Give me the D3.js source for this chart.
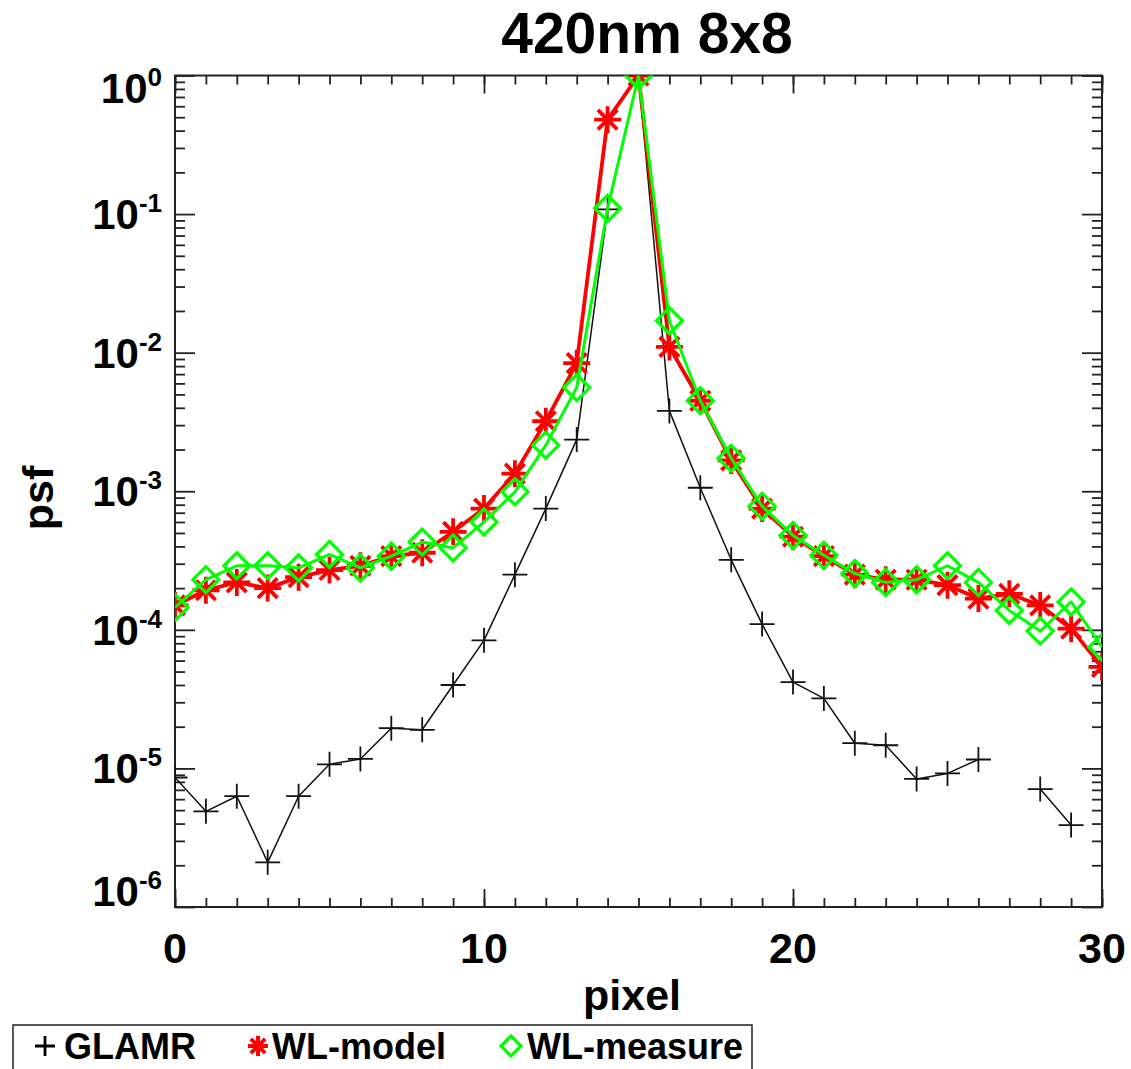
<!DOCTYPE html>
<html>
<head>
<meta charset="utf-8">
<script src="https://cdn.jsdelivr.net/npm/d3@7"></script>
<style>
  body { margin: 0; background: #fff; }
  svg text { font-family: "Liberation Sans", Arial, sans-serif; font-weight: bold; fill: #000; }
</style>
</head>
<body>
<div id="chart"></div>
<script>
// pixel positions along the cut
var pixels = [0,1,2,3,4,5,6,7,8,9,10,11,12,13,14,15,16,17,18,19,20,21,22,23,24,25,26,27,28,29,30];

// GLAMR (null = no point)
var glamr = [8.6e-6, 4.9e-6, 6.3e-6, 2.1e-6, 6.3e-6, 1.07e-5, 1.17e-5, 1.95e-5, 1.9e-5, 4.0e-5,
             8.4e-5, 2.5e-4, 7.5e-4, 2.36e-3, 0.108, 1.0, 3.8e-3, 1.06e-3, 3.2e-4, 1.1e-4,
             4.2e-5, 3.2e-5, 1.52e-5, 1.47e-5, 8.4e-6, 9.2e-6, 1.16e-5, null, 7.1e-6, 3.9e-6, null];

// WL-model
var wlModel = [1.5e-4, 1.93e-4, 2.2e-4, 2.0e-4, 2.4e-4, 2.7e-4, 2.9e-4, 3.4e-4, 3.6e-4, 5.1e-4,
               7.5e-4, 1.34e-3, 3.2e-3, 8.4e-3, 0.48, 1.0, 0.011, 4.5e-3, 1.67e-3, 7.5e-4,
               4.7e-4, 3.4e-4, 2.5e-4, 2.3e-4, 2.3e-4, 2.1e-4, 1.68e-4, 1.82e-4, 1.5e-4, 1.02e-4, 5.4e-5];

// WL-measure
var wlMeasure = [1.45e-4, 2.3e-4, 2.9e-4, 2.9e-4, 2.8e-4, 3.5e-4, 2.8e-4, 3.4e-4, 4.3e-4, 3.9e-4,
                 6.0e-4, 9.9e-4, 2.15e-3, 5.6e-3, 0.11, 1.0, 0.017, 4.5e-3, 1.73e-3, 7.8e-4,
                 4.8e-4, 3.45e-4, 2.55e-4, 2.2e-4, 2.3e-4, 2.9e-4, 2.2e-4, 1.38e-4, 9.8e-5, 1.59e-4, 7.5e-5];

var xMajor = [0, 10, 20, 30];
var yExponents = [0, -1, -2, -3, -4, -5, -6];

var W = 1131, H = 1069;
var pLeft = 175, pRight = 1102, pTop = 75.5, pBottom = 907;

var svg = d3.select("#chart").append("svg")
    .attr("width", W)
    .attr("height", H);

var x = d3.scaleLinear().domain([0, 30]).range([pLeft, pRight]);
var y = d3.scaleLog().domain([1e-6, 1]).range([pBottom, pTop]);

svg.append("clipPath").attr("id", "plotclip")
  .append("rect")
    .attr("x", pLeft).attr("y", pTop)
    .attr("width", pRight - pLeft).attr("height", pBottom - pTop);

// ticks (all pointing inward)
var yMinor = y.ticks().filter(function(v) { return Math.abs(Math.log10(v) - Math.round(Math.log10(v))) > 1e-6; });
var yMajor = yExponents.map(function(e) { return Math.pow(10, e); });

function tickAxis(axis, tx, ty) {
  var g = svg.append("g")
      .attr("transform", "translate(" + tx + "," + ty + ")")
      .call(axis.tickFormat(""));
  g.select(".domain").remove();
  g.selectAll("line").attr("stroke", "#222").attr("stroke-width", 1.8);
}
tickAxis(d3.axisBottom(x).tickValues(pixels).tickSize(-9), 0, pBottom);
tickAxis(d3.axisBottom(x).tickValues(xMajor).tickSize(-18), 0, pBottom);
tickAxis(d3.axisTop(x).tickValues(pixels).tickSize(-9), 0, pTop);
tickAxis(d3.axisTop(x).tickValues(xMajor).tickSize(-18), 0, pTop);
tickAxis(d3.axisLeft(y).tickValues(yMinor).tickSize(-10), pLeft, 0);
tickAxis(d3.axisLeft(y).tickValues(yMajor).tickSize(-20), pLeft, 0);
tickAxis(d3.axisRight(y).tickValues(yMinor).tickSize(-10), pRight, 0);
tickAxis(d3.axisRight(y).tickValues(yMajor).tickSize(-20), pRight, 0);

// frame
svg.append("rect")
    .attr("x", pLeft).attr("y", pTop)
    .attr("width", pRight - pLeft).attr("height", pBottom - pTop)
    .attr("fill", "none").attr("stroke", "#222").attr("stroke-width", 2);

// x tick labels
svg.selectAll(".xlab").data(xMajor).enter().append("text")
    .attr("x", function(d) { return x(d); })
    .attr("y", 963)
    .attr("text-anchor", "middle")
    .style("font-size", "43px")
    .text(function(d) { return d; });

// y tick labels: 10^e
yExponents.forEach(function(e, i) {
  var yy = y(Math.pow(10, e)) + 15;
  if (i === 0) yy = pTop + 27;
  if (i === yExponents.length - 1) yy = pBottom - 1;
  var t = svg.append("text")
      .attr("x", 162).attr("y", yy)
      .attr("text-anchor", "end")
      .style("font-size", "42px");
  t.append("tspan").text("10");
  t.append("tspan").attr("dy", -17).style("font-size", "26px").text(e);
});

// titles
svg.append("text").attr("x", 647).attr("y", 53).attr("text-anchor", "middle")
    .style("font-size", "57px").text("420nm 8x8");
svg.append("text").attr("x", 632).attr("y", 1010).attr("text-anchor", "middle")
    .style("font-size", "43px").text("pixel");
svg.append("text").attr("transform", "translate(53,498) rotate(-90)").attr("text-anchor", "middle")
    .style("font-size", "43px").text("psf");

// series
var plot = svg.append("g").attr("clip-path", "url(#plotclip)");

function lineFor(vals) {
  return d3.line()
    .defined(function(d, i) { return vals[i] != null; })
    .x(function(d, i) { return x(pixels[i]); })
    .y(function(d, i) { return y(vals[i] || 1); })(vals);
}

function plusPath(s) { return "M" + (-s) + ",0H" + s + "M0," + (-s) + "V" + s; }
function starPath(s) {
  var d = s * 0.72;
  return plusPath(s) + "M" + (-d) + "," + (-d) + "L" + d + "," + d + "M" + (-d) + "," + d + "L" + d + "," + (-d);
}
function diamondPath(s) { return "M0," + (-s) + "L" + s + ",0L0," + s + "L" + (-s) + ",0Z"; }

function drawSeries(vals, color, lw, markPath, mw) {
  plot.append("path")
      .attr("d", lineFor(vals))
      .attr("fill", "none").attr("stroke", color).attr("stroke-width", lw)
      .attr("stroke-linejoin", "round");
  plot.selectAll(null)
      .data(pixels.filter(function(p, i) { return vals[i] != null; }))
      .enter().append("path")
      .attr("transform", function(p) { return "translate(" + x(p) + "," + y(vals[pixels.indexOf(p)]) + ")"; })
      .attr("d", markPath)
      .attr("fill", "none").attr("stroke", color).attr("stroke-width", mw);
}

drawSeries(glamr, "#111", 1.5, plusPath(12.5), 1.8);
drawSeries(wlModel, "#ff0000", 3.8, starPath(13.5), 3.8);
drawSeries(wlMeasure, "#00ff00", 3, diamondPath(13), 3.2);

// legend
svg.append("rect")
    .attr("x", 13).attr("y", 1025).attr("width", 739).attr("height", 60)
    .attr("fill", "none").attr("stroke", "#222").attr("stroke-width", 1.5);

var legendItems = [
  { label: "GLAMR", color: "#000", mark: plusPath(10), mw: 2.8, mx: 45, tx: 64 },
  { label: "WL-model", color: "#ff0000", mark: starPath(10), mw: 4, mx: 258, tx: 272 },
  { label: "WL-measure", color: "#00ff00", mark: diamondPath(10), mw: 3.2, mx: 511, tx: 527 }
];
legendItems.forEach(function(d) {
  svg.append("path")
      .attr("transform", "translate(" + d.mx + ",1046)")
      .attr("d", d.mark)
      .attr("fill", "none").attr("stroke", d.color).attr("stroke-width", d.mw);
  svg.append("text")
      .attr("x", d.tx).attr("y", 1059)
      .style("font-size", "36px")
      .text(d.label);
});
</script>
</body>
</html>
